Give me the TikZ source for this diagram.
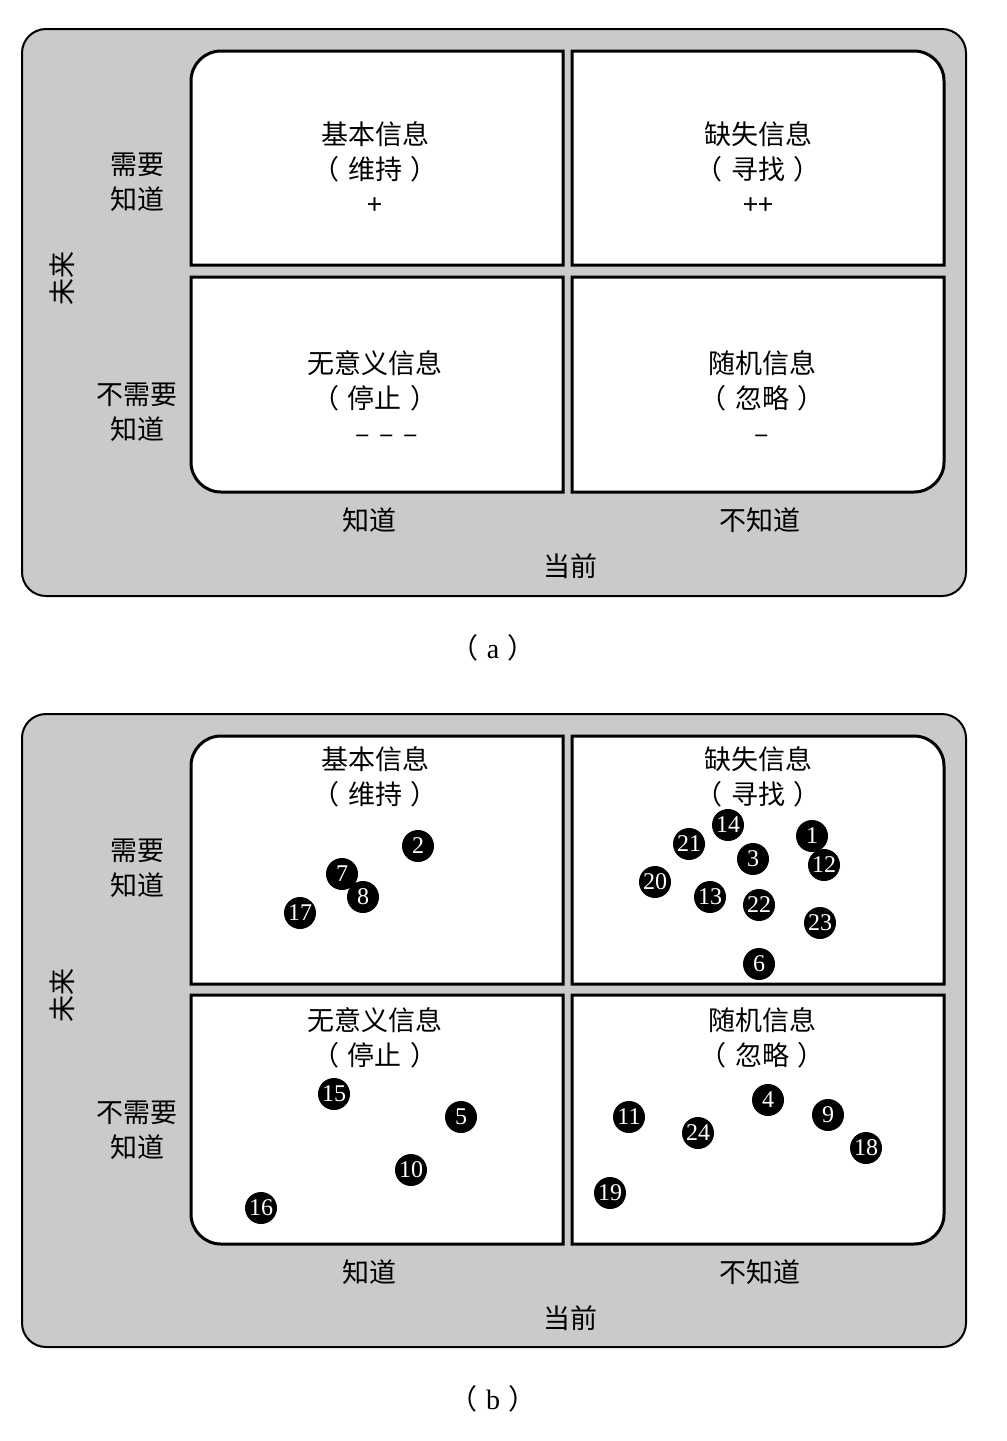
\documentclass[tikz,border=0pt]{standalone}
\usepackage{fontspec}
\setmainfont{Liberation Serif}
\newfontfamily\cjk{Noto Sans CJK SC}
\usetikzlibrary{positioning}
\definecolor{panelgray}{HTML}{C9CAC9}
\newcommand{\paren}[1]{（\hspace{0.3em}#1\hspace{0.3em}）}

\begin{document}
\begin{tikzpicture}[x=1pt, y=-1pt,
  lbl/.style={font=\cjk\fontsize{27}{35}\selectfont, align=center, inner sep=0pt},
  subcap/.style={font=\fontsize{28}{32}\selectfont, inner sep=0pt},
  panel/.style={draw=black, line width=2pt, fill=panelgray, rounded corners=24pt},
  quad/.style={draw=black, line width=3pt, fill=white},
  dot/.style={circle, fill=black, minimum size=32pt, inner sep=0pt, text=white, font=\fontsize{24}{24}\selectfont}]
\useasboundingbox (0,0) rectangle (1007,1441);
% two panels: outer box top/bottom, quadrant rows top/mid/mid/bottom
\foreach \pt/\pb/\ra/\rb/\rc/\rd in {29/596/51/265/277/492, 714/1347/736/984/995/1244} {
  \draw[panel] (22,\pt) rectangle (966,\pb);
  \draw[quad] (191,\rb) [rounded corners=30pt] -- (191,\ra) [sharp corners] -- (563,\ra) -- (563,\rb) -- cycle;
  \draw[quad] (572,\ra) [rounded corners=30pt] -- (944,\ra) [sharp corners] -- (944,\rb) -- (572,\rb) -- cycle;
  \draw[quad] (191,\rc) [rounded corners=30pt] -- (191,\rd) [sharp corners] -- (563,\rd) -- (563,\rc) -- cycle;
  \draw[quad] (944,\rc) [rounded corners=30pt] -- (944,\rd) [sharp corners] -- (572,\rd) -- (572,\rc) -- cycle;
}

% (a)
\node[lbl] (aTL) at (375,168) {基本信息\\\paren{维持}\\+};
\node[lbl] (aTR) at (758,168) {缺失信息\\\paren{寻找}\\++};
\node[lbl] (aBL) at (375,397) {无意义信息\\\paren{停止}\\\hspace{24pt}–\hspace{0.35em}–\hspace{0.35em}–};
\node[lbl] (aBR) at (762,397) {随机信息\\\paren{忽略}\\–};
\node[lbl] (aNeed) at (137,182) {需要\\知道};
\node[lbl] (aNoNeed) at (137,412) {不需要\\知道};
\node[lbl, rotate=90] (aFuture) at (62,278) {未来};
\node[lbl] (aKnow) at (369,520) {知道};
\node[lbl] (aNoKnow) at (760,520) {不知道};
\node[lbl] (aNow) at (570,566) {当前};
\node[subcap] (capA) at (493,648) {{\cjk（}\hspace{0.3em}a\hspace{0.3em}{\cjk）}};

% (b)
\node[lbl] (bTL) at (375,777) {基本信息\\\paren{维持}};
\node[lbl] (bTR) at (758,777) {缺失信息\\\paren{寻找}};
\node[lbl] (bBL) at (375,1038) {无意义信息\\\paren{停止}};
\node[lbl] (bBR) at (762,1038) {随机信息\\\paren{忽略}};
\node[lbl] (bNeed) at (137,868) {需要\\知道};
\node[lbl] (bNoNeed) at (137,1130) {不需要\\知道};
\node[lbl, rotate=90] (bFuture) at (62,995) {未来};
\node[lbl] (bKnow) at (369,1272) {知道};
\node[lbl] (bNoKnow) at (760,1272) {不知道};
\node[lbl] (bNow) at (570,1318) {当前};
\node[subcap] (capB) at (493,1399) {{\cjk（}\hspace{0.3em}b\hspace{0.3em}{\cjk）}};

% numbered items
\foreach \n/\x/\y in {2/418/846, 7/342/874, 8/363/897, 17/300/913,
  14/728/825, 21/689/844, 1/812/836, 3/753/859, 12/824/865, 20/655/882,
  13/710/897, 22/759/905, 23/820/923, 6/759/964,
  15/334/1094, 5/461/1117, 10/411/1170, 16/261/1208,
  11/629/1117, 24/698/1133, 4/768/1100, 9/828/1115, 18/866/1148, 19/610/1193}
  \node[dot] (item\n) at (\x,\y) {\n};
\end{tikzpicture}
\end{document}
